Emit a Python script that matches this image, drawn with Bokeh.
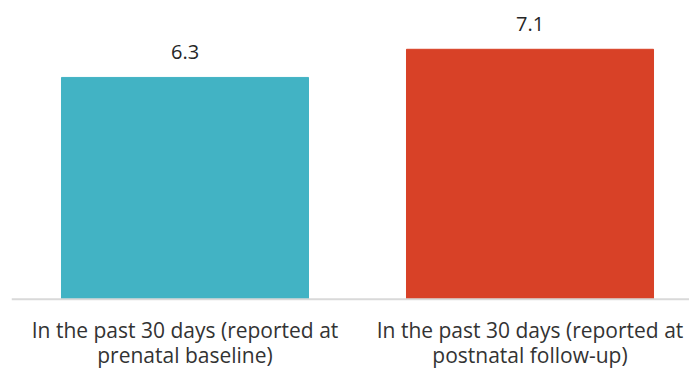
from bokeh.plotting import figure
from bokeh.models import ColumnDataSource, Range1d, Span
from bokeh.core.properties import value
from bokeh.embed import file_html
from bokeh.resources import INLINE

categories = ["In the past 30 days (reported at\nprenatal baseline)",
              "In the past 30 days (reported at\npostnatal follow-up)"]
values = [6.3, 7.1]
labels = ["6.3", "7.1"]
colors = ["#42B3C4", "#D84127"]

xs = [i + 0.5 for i in range(len(categories))]
line1 = [c.split("\n")[0] for c in categories]
line2 = [c.split("\n")[1] for c in categories]
src = ColumnDataSource(dict(x=xs, top=values, label=labels, color=colors,
                            zero=[0] * len(xs), l1=line1, l2=line2))

p = figure(width=689, height=371, output_backend="svg", toolbar_location=None,
           x_range=Range1d(-0.0029, 1.9623), y_range=Range1d(-2.054, 8.486),
           min_border_left=11, min_border_right=0, min_border_top=0, min_border_bottom=0)
p.axis.visible = False
p.grid.visible = False
p.outline_line_color = None

p.vbar(x="x", top="top", bottom=0, width=0.716, color="color", source=src)
p.add_layout(Span(location=0, dimension="width", line_color="#d9d9d9", line_width=2))

p.text(x="x", y="top", text="label", source=src, text_align="center",
       text_baseline="alphabetic", y_offset=-25, text_font=value("Open Sans"),
       text_font_size="20px", text_color="#262626")
p.text(x="x", y="zero", text="l1", source=src, text_align="center",
       text_baseline="alphabetic", y_offset=31, text_font=value("Open Sans"),
       text_font_size="21px", text_color="#333333")
p.text(x="x", y="zero", text="l2", source=src, text_align="center",
       text_baseline="alphabetic", y_offset=56, text_font=value("Open Sans"),
       text_font_size="21px", text_color="#333333")

open("out.html", "w").write(file_html(p, INLINE))
